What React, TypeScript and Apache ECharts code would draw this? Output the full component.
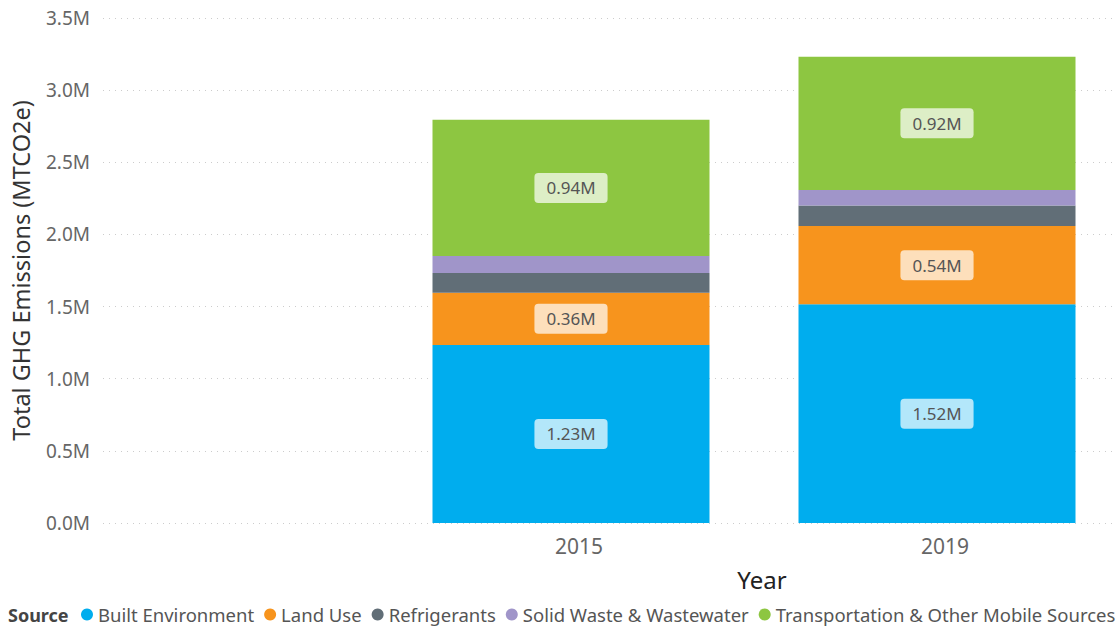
import React, { useEffect, useRef } from "react";
import * as echarts from "echarts";

const categories = ["", "2015", "2019"];
const seriesNames = [
  "Built Environment",
  "Land Use",
  "Refrigerants",
  "Solid Waste & Wastewater",
  "Transportation & Other Mobile Sources",
];
const builtEnvironment = [null, 1234000, 1516000];
const landUse = [null, 362000, 542000];
const refrigerants = [null, 137000, 142000];
const solidWaste = [null, 117000, 108000];
const transportation = [null, 944000, 924000];
const yTicks = [0, 500000, 1000000, 1500000, 2000000, 2500000, 3000000, 3500000];

const colors = ["#00ADEE", "#F7941D", "#616E77", "#A095C9", "#8DC641"];
const labelled = [true, true, false, false, true];
const FONT = "'Segoe UI', 'Noto Sans', sans-serif";

export default function App() {
  const ref = useRef<HTMLDivElement>(null);
  useEffect(() => {
    if (!ref.current) return;
    const chart = echarts.init(ref.current, undefined, { renderer: "svg" });
    const values = [builtEnvironment, landUse, refrigerants, solidWaste, transportation];
    const series = seriesNames.map((name, i) => ({
      name,
      type: "bar",
      stack: "total",
      xAxisIndex: 0,
      yAxisIndex: 0,
      barWidth: 277,
      data: values[i],
      itemStyle: { color: colors[i] },
      label: labelled[i]
        ? {
            show: true,
            position: "inside",
            formatter: (p: any) => (p.value / 1e6).toFixed(2) + "M",
            color: "#555",
            fontSize: 17,
            fontFamily: FONT,
            backgroundColor: "rgba(255,255,255,0.7)",
            borderRadius: 4,
            padding: [7, 12, 6, 12],
          }
        : { show: false },
    }));
    chart.setOption({
      animation: false,
      grid: [
        { left: 22, right: 0, top: 18, bottom: 105, outerBoundsMode: "none" },
        { left: 103, right: 4, top: 18, bottom: 105, outerBoundsMode: "none" },
      ],
      xAxis: [
        {
          type: "category",
          gridIndex: 0,
          data: categories,
          axisLine: { show: false },
          axisTick: { show: false },
          splitLine: { show: false },
          axisLabel: {
            color: "#666",
            fontSize: 21,
            fontFamily: FONT,
            margin: 12,
            padding: [0, 0, 0, 16],
          },
        },
        {
          type: "category",
          gridIndex: 1,
          data: categories,
          show: false,
        },
      ],
      yAxis: [
        {
          type: "value",
          gridIndex: 0,
          min: 0,
          max: 3500000,
          interval: 500000,
          show: false,
          splitLine: { show: false },
        },
        {
          type: "value",
          gridIndex: 1,
          min: yTicks[0],
          max: yTicks[yTicks.length - 1],
          interval: 500000,
          axisLine: { show: false },
          axisTick: { show: false },
          axisLabel: {
            color: "#666",
            fontSize: 19,
            fontFamily: FONT,
            margin: 13,
            formatter: (v: number) => (v / 1e6).toFixed(1) + "M",
          },
          splitLine: { lineStyle: { color: "#ccc", type: [1, 5], width: 1 } },
          name: "Total GHG Emissions (MTCO2e)",
          nameLocation: "middle",
          nameGap: 70,
          nameTextStyle: { color: "#333", fontSize: 23.5, fontFamily: FONT },
        },
      ],
      legend: {
        left: 81,
        top: 605,
        padding: 0,
        icon: "circle",
        itemWidth: 12,
        itemHeight: 12,
        itemGap: 10,
        data: seriesNames,
        textStyle: { color: "#555", fontSize: 18.5, fontFamily: FONT },
      },
      graphic: [
        {
          type: "text",
          x: 8,
          y: 615,
          style: {
            text: "Source",
            fill: "#444",
            fontSize: 18,
            fontWeight: "bold",
            fontFamily: FONT,
            verticalAlign: "middle",
          },
        },
        {
          type: "text",
          x: 762,
          y: 579,
          style: {
            text: "Year",
            fill: "#222",
            fontSize: 24,
            fontFamily: FONT,
            align: "center",
            verticalAlign: "middle",
          },
        },
      ],
      series,
    });
    return () => chart.dispose();
  }, []);
  return (
    <div
      ref={ref}
      style={{ position: "absolute", left: 0, top: 0, width: 1120, height: 628 }}
    />
  );
}
